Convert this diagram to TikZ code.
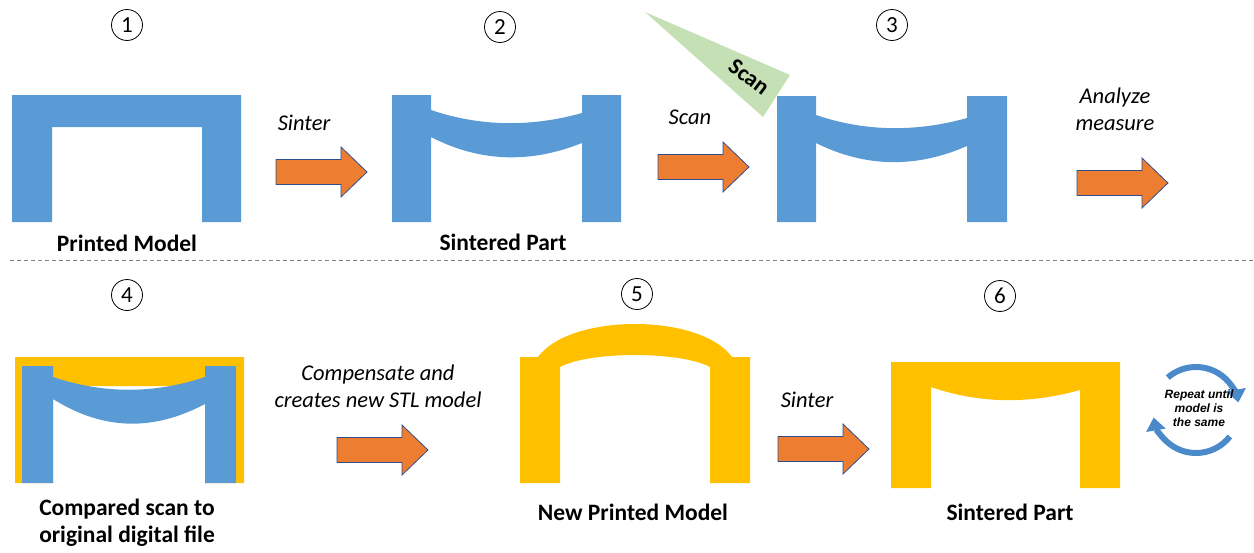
\documentclass[tikz,border=0pt]{standalone}
\usepackage{fontspec}
\setmainfont{Carlito}
\newfontfamily\arialf{Liberation Sans}
\usetikzlibrary{arrows.meta}
\definecolor{partblue}{HTML}{5B9BD5}
\definecolor{partgold}{HTML}{FFC000}
\definecolor{steporange}{HTML}{ED7D31}
\definecolor{arrowedge}{HTML}{2F4F8F}
\definecolor{scangreen}{HTML}{C5E0B4}
\definecolor{cycleblue}{HTML}{4A8ACB}
\definecolor{sepgray}{HTML}{808080}
\tikzset{
  numcircle/.style={circle, draw, line width=0.8pt, minimum size=31pt, inner sep=0pt,
    font=\fontsize{23}{23}\selectfont},
  partlabel/.style={font=\bfseries\fontsize{23.5}{27}\selectfont, align=center, inner sep=0pt},
  steplabel/.style={font=\itshape\fontsize{22.5}{27}\selectfont, align=center, inner sep=0pt},
  bluepart/.style={fill=partblue},
  goldpart/.style={fill=partgold},
  stepbody/.style={fill=steporange, draw=arrowedge, line width=0.8pt, line join=miter},
  cyclearrow/.style={draw=cycleblue, line width=6pt,
    -{Triangle[length=13pt,width=19pt]}},
}
% block arrow: left end of the shaft at (#1,#2), centre line at height #2
\newcommand\stepblock[2]{%
  \path[stepbody] (#1,#2-12.5) -- ++(65,0) -- ++(0,-12.5) -- (#1+91,#2)
    -- (#1+65,#2+25) -- ++(0,-12.5) -- (#1,#2+12.5) -- cycle;}
\begin{document}
\begin{tikzpicture}[x=1pt,y=-1pt]
\useasboundingbox (0,0) rectangle (1254,552);

% step numbers
\node[numcircle] (n1) at (127,25) {1};
\node[numcircle] (n2) at (500,27) {2};
\node[numcircle] (n3) at (892,25) {3};
\node[numcircle] (n4) at (127,295) {4};
\node[numcircle] (n5) at (637,294) {5};
\node[numcircle] (n6) at (1000,296) {6};

% 1: printed model
\path[bluepart] (12,95) -- (241,95) -- (241,222) -- (202,222) -- (202,127)
  -- (52,127) -- (52,222) -- (12,222) -- cycle;
\node[partlabel] (l1) at (127,243) {Printed Model};

% 2: sintered part
\path[bluepart] (392,95) -- (431,95) -- (431,110) .. controls (481,127) and (532,127) .. (582,113)
  -- (582,95) -- (621,95) -- (621,222) -- (582,222) -- (582,143)
  .. controls (532,163) and (481,163) .. (431,137) -- (431,222) -- (392,222) -- cycle;
\node[partlabel] (l2) at (503,242) {Sintered Part};

% scanner beam
\path[fill=scangreen] (645,12) -- (790,75) -- (763,117) -- cycle;
\node[font=\bfseries\fontsize{23}{23}\selectfont, rotate=-37, inner sep=0pt] (scanbeam) at (749,77) {Scan};

% 3: part being scanned
\path[bluepart] (777,96) -- (816,96) -- (816,115) .. controls (866,132) and (917,132) .. (967,118)
  -- (967,96) -- (1007,96) -- (1007,222) -- (967,222) -- (967,146)
  .. controls (917,168) and (866,168) .. (816,143) -- (816,222) -- (777,222) -- cycle;

% top row process steps
\node[steplabel] (t1) at (304,123) {Sinter};
\stepblock{276}{172}
\node[steplabel] (t2) at (690,117) {Scan};
\stepblock{658}{167}
\node[steplabel] (t3) at (1115,109) {Analyze\\measure};
\stepblock{1077}{183}

% separator
\coordinate (sepL) at (10,260);
\coordinate (sepR) at (1254,260);
\draw[sepgray, dashed, line width=0.8pt, dash pattern=on 4pt off 3pt] (sepL) -- (sepR);

% 4: scan compared with the original model
\path[goldpart] (15,357) -- (244,357) -- (244,483) -- (205,483) -- (205,386)
  -- (53,386) -- (53,483) -- (15,483) -- cycle;
\path[bluepart] (22,366) -- (53,366) -- (53,377) .. controls (104,394) and (154,394) .. (205,377)
  -- (205,366) -- (236,366) -- (236,483) -- (205,483) -- (205,404)
  .. controls (154,431) and (104,431) .. (53,399) -- (53,483) -- (22,483) -- cycle;
\node[partlabel] (l4) at (127,523) {Compared scan to\\original digital file};

% 5: compensated model
\path[goldpart] (520,357) -- (538,357) .. controls (570,313) and (700,313) .. (732,357)
  -- (750,357) -- (750,483) -- (710,483) -- (710,367)
  .. controls (680,351) and (590,351) .. (560,367) -- (560,483) -- (520,483) -- cycle;
\node[partlabel] (l5) at (633,512) {New Printed Model};

% 6: sintered compensated part
\path[goldpart] (891,362) -- (1120,362) -- (1120,488) -- (1080,488) -- (1080,390)
  .. controls (1030,404) and (980,404) .. (931,387) -- (931,488) -- (891,488) -- cycle;
\node[partlabel] (l6) at (1010,512) {Sintered Part};

% bottom row process steps
\node[steplabel] (t4) at (378,386) {Compensate and\\creates new STL model};
\stepblock{337}{450}
\node[steplabel] (t5) at (807,400) {Sinter};
\stepblock{778}{449}

% repeat loop
\coordinate (cyc) at (1196,410);
\draw[cyclearrow] ([shift={(-131:43)}]cyc) arc[start angle=-131, end angle=-10, radius=43];
\draw[cyclearrow] ([shift={(38:43)}]cyc) arc[start angle=38, end angle=170, radius=43];
\node[font=\arialf\bfseries\itshape\fontsize{12}{14}\selectfont, align=center, inner sep=0pt]
  (rep) at (1199,408) {Repeat until\\model is\\the same};
\end{tikzpicture}
\end{document}
